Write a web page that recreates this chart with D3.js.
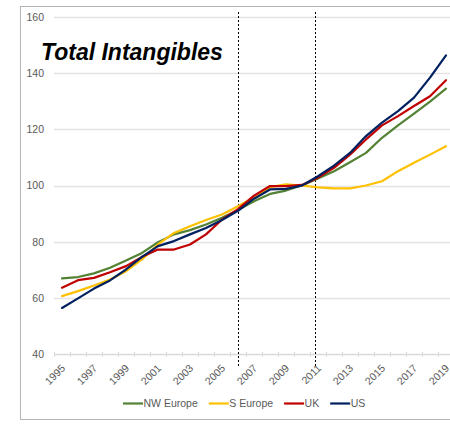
<!DOCTYPE html>
<html>
<head>
<meta charset="utf-8">
<script src="https://cdn.jsdelivr.net/npm/d3@7"></script>
<style>
  html, body { margin: 0; padding: 0; background: #fff; }
  svg { display: block; }
</style>
</head>
<body>
<svg id="chart" width="450" height="430"></svg>
<script>
const years = d3.range(1995, 2020);
const yTicks = [40, 60, 80, 100, 120, 140, 160];
const xLabelYears = [1995, 1997, 1999, 2001, 2003, 2005, 2007, 2009, 2011, 2013, 2015, 2017, 2019];
const markerYears = [2006, 2010.8];
const seriesNames = ["NW Europe", "S Europe", "UK", "US"];
const seriesColors = ["#548235", "#FFC000", "#C00000", "#002060"];
const nwEurope = [66.9, 67.4, 68.7, 70.7, 73.3, 76.0, 79.8, 82.6, 84.1, 86.1, 88.5, 91.3, 94.4, 97.0, 98.2, 100.0, 102.5, 105.1, 108.3, 111.6, 117.0, 121.4, 125.6, 129.9, 134.5];
const sEurope  = [60.6, 62.4, 64.4, 66.5, 69.5, 73.7, 79.0, 83.1, 85.5, 87.7, 89.7, 92.6, 95.7, 99.4, 100.4, 100.0, 99.3, 99.0, 99.0, 100.0, 101.5, 105.1, 108.1, 111.0, 114.0];
const uk       = [63.6, 66.3, 67.1, 69.1, 71.3, 74.6, 77.2, 77.2, 79.0, 82.6, 87.9, 91.6, 96.4, 99.8, 99.8, 100.2, 102.8, 106.3, 111.0, 116.4, 121.4, 124.7, 128.3, 131.8, 137.5];
const us       = [56.4, 59.8, 63.3, 66.2, 70.1, 74.6, 78.4, 80.2, 82.6, 84.9, 87.7, 91.0, 95.3, 98.6, 98.8, 100.0, 103.3, 107.1, 111.6, 117.6, 122.4, 126.5, 131.3, 138.4, 146.3];
const titleText = "Total Intangibles";

const seriesValues = [nwEurope, sEurope, uk, us];
const series = seriesNames.map((n, i) => ({
  name: n, color: seriesColors[i],
  values: years.map((y, j) => ({ year: y, value: seriesValues[i][j] }))
}));

const svg = d3.select("#chart");
const font = "'Liberation Sans', Arial, sans-serif";
const gray = "#595959";

// chart frame
svg.append("rect")
  .attr("x", 20.5).attr("y", 6.5).attr("width", 440).attr("height", 413)
  .attr("fill", "none").attr("stroke", "#b4b4b4").attr("stroke-width", 1);

const plotLeft = 54, plotRight = 454, plotTop = 17, plotBottom = 354;

const x = d3.scaleBand().domain(years).range([plotLeft, plotRight]).padding(0);
const xc = yr => x(yr) + x.bandwidth() / 2;
const xLin = d3.scaleLinear().domain([1995, 2019]).range([xc(1995), xc(2019)]);
const y = d3.scaleLinear().domain([40, 160]).range([plotBottom, plotTop]);

// gridlines
svg.append("g").selectAll("line").data(yTicks.filter(v => v > 40)).join("line")
  .attr("x1", plotLeft).attr("x2", plotRight)
  .attr("y1", d => Math.round(y(d)) + 0.5).attr("y2", d => Math.round(y(d)) + 0.5)
  .attr("stroke", "#e3e3e3").attr("stroke-width", 1.3);

// y axis labels
const yAxis = d3.axisLeft(y).tickValues(yTicks).tickSize(0).tickPadding(10);
const gy = svg.append("g").attr("transform", `translate(${plotLeft},0)`).call(yAxis);
gy.select(".domain").remove();
gy.selectAll("text").attr("font-family", font).attr("font-size", "10.5px").attr("fill", gray);

// x axis line + ticks
const gx = svg.append("g");
gx.append("line").attr("x1", plotLeft).attr("x2", plotRight)
  .attr("y1", Math.round(plotBottom) + 0.5).attr("y2", Math.round(plotBottom) + 0.5)
  .attr("stroke", "#d9d9d9").attr("stroke-width", 1.3);
gx.selectAll("line.tk").data(years.concat([2020])).join("line").attr("class", "tk")
  .attr("x1", d => d === 2020 ? plotRight + 0.5 : x(d) + 0.5)
  .attr("x2", d => d === 2020 ? plotRight + 0.5 : x(d) + 0.5)
  .attr("y1", plotBottom - 2).attr("y2", plotBottom + 3)
  .attr("stroke", "#d9d9d9").attr("stroke-width", 1);
gx.selectAll("text").data(xLabelYears).join("text")
  .attr("transform", d => `translate(${xc(d) + 1.5},${plotBottom + 12.5}) rotate(-45)`)
  .attr("text-anchor", "end").attr("dy", "0.32em")
  .attr("font-family", font).attr("font-size", "10.5px").attr("fill", gray)
  .text(d => d);

// dashed vertical markers
svg.append("g").selectAll("line").data(markerYears).join("line")
  .attr("x1", d => Math.round(xLin(d)) + 0.5).attr("x2", d => Math.round(xLin(d)) + 0.5)
  .attr("y1", 12).attr("y2", 367)
  .attr("stroke", "#000").attr("stroke-width", 1).attr("stroke-dasharray", "2,2");

// lines
const line = d3.line().x(d => xc(d.year)).y(d => y(d.value));
svg.append("g").selectAll("path").data(series).join("path")
  .attr("d", d => line(d.values))
  .attr("fill", "none").attr("stroke", d => d.color)
  .attr("stroke-width", 2.2).attr("stroke-linejoin", "round").attr("stroke-linecap", "round");

// title
svg.append("text").attr("x", 41).attr("y", 59.5)
  .attr("font-family", font).attr("font-size", "23px")
  .attr("font-weight", "bold").attr("font-style", "italic").attr("fill", "#000")
  .text(titleText);

// legend
const lg = svg.append("g");
let lx = 123;
const ly = 403.5;
series.forEach(s => {
  lg.append("line").attr("x1", lx).attr("x2", lx + 20).attr("y1", ly).attr("y2", ly)
    .attr("stroke", s.color).attr("stroke-width", 2.2);
  const t = lg.append("text").attr("x", lx + 20.5).attr("y", ly).attr("dy", "0.35em")
    .attr("font-family", font).attr("font-size", "10.5px").attr("fill", gray).text(s.name);
  lx = lx + 20.5 + t.node().getComputedTextLength() + 11;
});
</script>
</body>
</html>
